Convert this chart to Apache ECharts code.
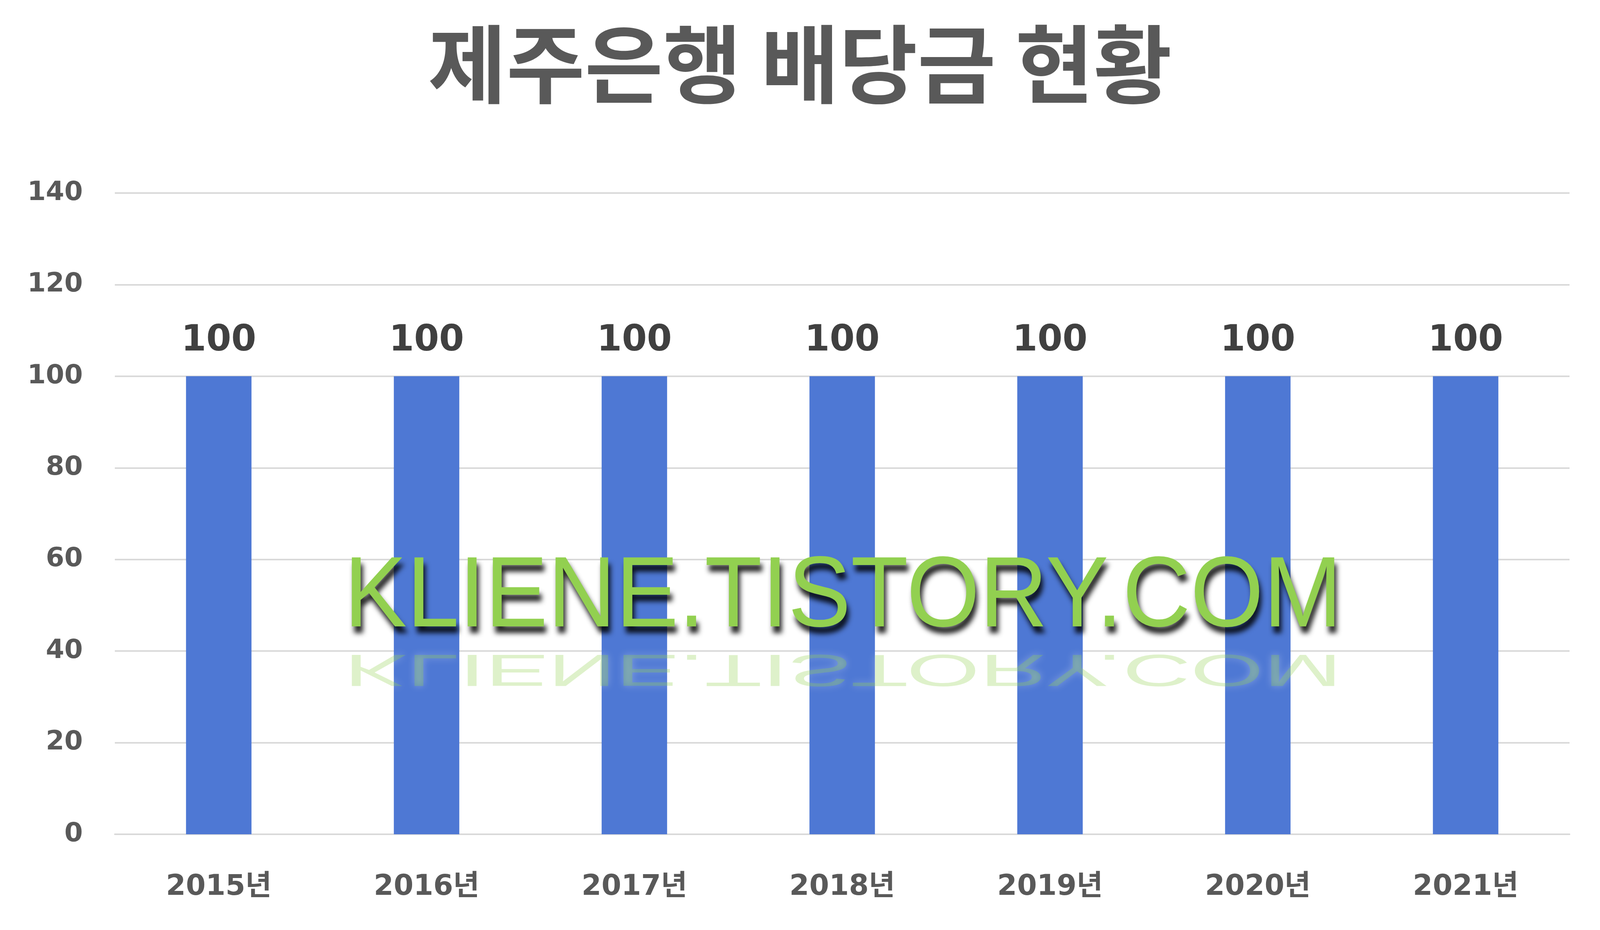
<!DOCTYPE html>
<html>
<head>
<meta charset="utf-8">
<script src="https://cdn.jsdelivr.net/npm/echarts@6/dist/echarts.min.js"></script>
<style>
  html, body { margin: 0; padding: 0; background: #ffffff; overflow: hidden; }
  #chart { width: 100vw; height: 100vh; }
</style>
</head>
<body>
<div id="chart"></div>
<script>
// 제주은행 배당금 (years and values)
const years = ["2015년", "2016년", "2017년", "2018년", "2019년", "2020년", "2021년"];
const dividends = [100, 100, 100, 100, 100, 100, 100];
const yTicks = { min: 0, max: 140, step: 20 };

const chartTitle = "제주은행 배당금 현황";
const watermark = "KLIENE.TISTORY.COM";

// layout was measured on a 4280x2380 canvas, scale it to the real window
const sx = window.innerWidth / 4280;
const sy = window.innerHeight / 2380;
const px = (v) => Math.round(v * sx);
const py = (v) => Math.round(v * sy);

const chart = echarts.init(document.getElementById("chart"));

const digitFont = "'DejaVu Sans', 'Noto Sans CJK KR', sans-serif";

const option = {
  backgroundColor: "#ffffff",
  animation: false,
  title: {
    text: chartTitle,
    left: "center",
    top: py(50),
    textStyle: {
      color: "#595959",
      fontFamily: "Noto Sans CJK KR",
      fontWeight: "bold",
      fontSize: px(228),
    },
  },
  grid: {
    left: px(307),
    right: px(82),
    top: py(494),
    bottom: py(245),
    containLabel: false,
  },
  xAxis: {
    type: "category",
    data: years,
    axisLine: { lineStyle: { color: "#d9d9d9", width: px(4) } },
    axisTick: { show: false },
    axisLabel: {
      margin: py(100),
      color: "#595959",
      fontFamily: digitFont,
      fontWeight: "bold",
      fontSize: px(76),
    },
  },
  yAxis: {
    type: "value",
    min: yTicks.min,
    max: yTicks.max,
    interval: yTicks.step,
    axisLine: { show: false },
    axisTick: { show: false },
    splitLine: { lineStyle: { color: "#d9d9d9", width: px(4) } },
    axisLabel: {
      margin: px(86),
      color: "#595959",
      fontFamily: digitFont,
      fontWeight: "bold",
      fontSize: px(71),
    },
  },
  series: [
    {
      type: "bar",
      data: dividends,
      barWidth: "31.5%",
      itemStyle: { color: "#4E78D4" },
      label: {
        show: true,
        position: "top",
        distance: py(44),
        color: "#404040",
        fontFamily: digitFont,
        fontWeight: "bold",
        fontSize: px(96),
      },
    },
  ],
  graphic: [
    // faint reflection of the watermark
    {
      type: "text",
      x: px(2255),
      y: py(1650),
      scaleX: 0.94,
      scaleY: -0.45,
      z: 90,
      style: {
        text: watermark,
        font: px(268) + "px 'Liberation Sans', Arial, sans-serif",
        align: "center",
        verticalAlign: "bottom",
        fill: "rgba(146,208,80,0.3)",
        textShadowColor: "rgba(255,255,255,0.9)",
        textShadowBlur: px(20),
      },
    },
    // watermark with dark drop shadow
    {
      type: "text",
      x: px(2255),
      y: py(1660),
      scaleX: 0.94,
      z: 100,
      style: {
        text: watermark,
        font: px(268) + "px 'Liberation Sans', Arial, sans-serif",
        align: "center",
        verticalAlign: "bottom",
        fill: "#92D050",
        textShadowColor: "rgba(0,0,0,0.85)",
        textShadowBlur: px(14),
        textShadowOffsetX: px(6),
        textShadowOffsetY: px(18),
      },
    },
  ],
};

chart.setOption(option);
</script>
</body>
</html>
